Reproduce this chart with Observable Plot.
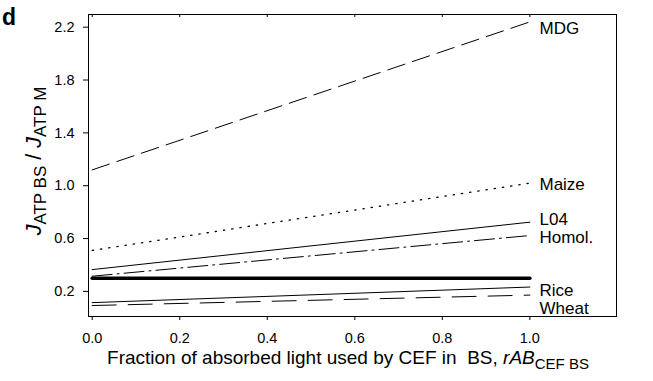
<!DOCTYPE html>
<html>
<head>
<meta charset="utf-8">
<script src="https://cdn.jsdelivr.net/npm/d3@7"></script>
<script src="https://cdn.jsdelivr.net/npm/@observablehq/plot@0.6"></script>
<style>
  html, body { margin: 0; padding: 0; background: #fff; }
  #chart { width: 653px; height: 381px; }
  svg { font-family: "Liberation Sans", Arial, sans-serif; }
</style>
</head>
<body>
<div id="chart"></div>
<script>
// ---- data ----
const series = ["MDG", "Maize", "L04", "Homol.", "Thick", "Rice", "Wheat"];
const xValues = [0, 1];
const mdgValues = [1.12, 2.24];
const maizeValues = [0.51, 1.02];
const l04Values = [0.365, 0.724];
const homolValues = [0.315, 0.623];
const thickValues = [0.30, 0.30];
const riceValues = [0.115, 0.233];
const wheatValues = [0.093, 0.172];
const xTicks = [0, 0.2, 0.4, 0.6, 0.8, 1.0];
const yTicks = [0.2, 0.6, 1.0, 1.4, 1.8, 2.2];
const labelNames = ["MDG", "Maize", "L04", "Homol.", "Rice", "Wheat"];
const labelY = [2.19, 1.01, 0.745, 0.605, 0.205, 0.07];
const labelX = 1.022;

const valuesBySeries = {
  "MDG": mdgValues, "Maize": maizeValues, "L04": l04Values, "Homol.": homolValues,
  "Thick": thickValues, "Rice": riceValues, "Wheat": wheatValues
};
const styles = {
  "MDG":   {dash: "18,8", w: 1},
  "Maize": {dash: "1.3,7", w: 1.3},
  "L04":   {dash: null, w: 1},
  "Homol.":{dash: "20,5,2,5", w: 1},
  "Thick": {dash: null, w: 3.6},
  "Rice":  {dash: null, w: 1},
  "Wheat": {dash: "24,12", w: 1}
};

const rows = series.map(s => xValues.map((x, i) => ({series: s, x, y: valuesBySeries[s][i]})));
const labels = labelNames.map((n, i) => ({name: n, x: labelX, y: labelY[i]}));

const W = 653, H = 381;
const mL = 88, mR = 37, mT = 14, mB = 65;
const plotH = H - mT - mB;

const marks = [
  Plot.frame({stroke: "#000", strokeWidth: 1}),
  Plot.axisY({ticks: yTicks, tickSize: 5, tickPadding: 9, tickFormat: d3.format(".1f"), label: null, fontSize: 14.5}),
  Plot.axisX({ticks: xTicks, tickSize: 4, tickPadding: 12, tickFormat: d3.format(".1f"), label: null, fontSize: 14.5}),
  Plot.tickX(xTicks, {x: d => d, stroke: "#000", strokeWidth: 1, insetBottom: plotH - 3}),
  ...rows.map(r => {
    const st = styles[r[0].series];
    return Plot.line(r, {x: "x", y: "y", stroke: "#000", strokeWidth: st.w, strokeDasharray: st.dash});
  }),
  Plot.text(labels, {x: "x", y: "y", text: "name", textAnchor: "start", fontSize: 17, fill: "#000"})
];

const chart = Plot.plot({
  width: W, height: H,
  marginLeft: mL, marginRight: mR, marginTop: mT, marginBottom: mB,
  x: {domain: [-0.0085, 1.198]},
  y: {domain: [0.01, 2.296]},
  style: {fontFamily: "'Liberation Sans', Arial, sans-serif", color: "#000", background: "#fff"},
  marks
});
document.getElementById("chart").appendChild(chart);

const svg = d3.select(chart);
// panel letter
svg.append("text").attr("x", 9).attr("y", 25).attr("font-size", 23).attr("font-weight", "bold").attr("fill", "#000").text("d");

// y axis title
const yt = svg.append("text")
  .attr("transform", `translate(41,161) rotate(-90)`)
  .attr("text-anchor", "middle").attr("font-size", 21.5).attr("fill", "#000");
yt.append("tspan").attr("font-style", "italic").text("J");
yt.append("tspan").attr("font-size", 17).attr("dy", 5).text("ATP BS");
yt.append("tspan").attr("dy", -5).text(" / ");
yt.append("tspan").attr("font-style", "italic").text("J");
yt.append("tspan").attr("font-size", 17).attr("dy", 5).text("ATP M");

// x axis title
const xt = svg.append("text")
  .attr("x", 348).attr("y", 364)
  .attr("text-anchor", "middle").attr("font-size", 19).attr("fill", "#000");
xt.append("tspan").text("Fraction of absorbed light used by CEF in \u00a0BS, ");
xt.append("tspan").attr("font-style", "italic").text("rAB");
xt.append("tspan").attr("font-size", 15).attr("dy", 5).text("CEF BS");
</script>
</body>
</html>
